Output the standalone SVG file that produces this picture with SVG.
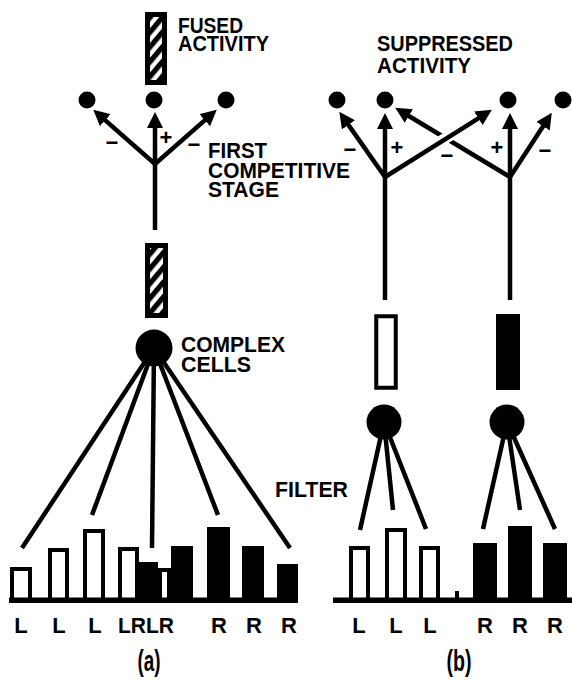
<svg xmlns="http://www.w3.org/2000/svg" width="572" height="683" viewBox="0 0 572 683">
  <style>
    .t { font-family: "Liberation Sans", Arial, sans-serif; font-weight: bold; font-size: 22px; fill: #000; }
    .sg { font-family: "Liberation Sans", Arial, sans-serif; font-weight: bold; font-size: 22px; fill: #000; text-anchor: middle; }
    .lb { font-family: "Liberation Sans", Arial, sans-serif; font-weight: bold; font-size: 22px; fill: #000; text-anchor: middle; }
    .cap { font-family: "Liberation Sans", Arial, sans-serif; font-weight: bold; font-size: 30px; fill: #000; text-anchor: middle; }
    .ln { stroke: #000; stroke-width: 4.5; fill: none; stroke-linecap: butt; }
    .arr { marker-end: url(#ah); }
    .open { fill: #fff; stroke: #000; stroke-width: 4; }
    .solid { fill: #000; }
    .dot { fill: #000; }
    .hatch { fill: url(#stripes); stroke: #000; stroke-width: 5; }
  </style>
  <defs>
    <marker id="ah" markerUnits="userSpaceOnUse" markerWidth="16" markerHeight="16" viewBox="0 0 16 16" refX="1" refY="8" orient="auto">
      <path d="M0,0 L16,8 L0,16 z" fill="#000"/>
    </marker>
    <pattern id="stripes" patternUnits="userSpaceOnUse" width="9.5" height="9.5" patternTransform="rotate(40)">
      <rect x="0" y="0" width="9.5" height="9.5" fill="#fff"/>
      <rect x="0" y="0" width="5.2" height="9.5" fill="#000"/>
    </pattern>
  </defs>

  <rect width="572" height="683" fill="#fff"/>

  <!-- connectors -->
  <g id="connectors">
    <!-- panel a: competitive stage -->
    <line class="ln" x1="155" y1="230" x2="155" y2="162"/>
    <line class="ln arr" x1="155" y1="164" x2="104.5" y2="119.6"/>
    <line class="ln arr" x1="155" y1="164" x2="155" y2="127"/>
    <line class="ln arr" x1="155" y1="164" x2="205.5" y2="119.6"/>
    <!-- panel a: filter fan -->
    <line class="ln" x1="154" y1="348" x2="22" y2="548"/>
    <line class="ln" x1="154" y1="348" x2="92" y2="515"/>
    <line class="ln" x1="154" y1="348" x2="152" y2="548"/>
    <line class="ln" x1="154" y1="348" x2="218" y2="515"/>
    <line class="ln" x1="154" y1="348" x2="290" y2="548"/>

    <!-- panel b: two competitive trees -->
    <line class="ln" x1="385" y1="300" x2="385" y2="175"/>
    <line class="ln" x1="510" y1="300" x2="510" y2="175"/>
    <line class="ln arr" x1="385" y1="177" x2="347.9" y2="124.1"/>
    <line class="ln arr" x1="385" y1="177" x2="385" y2="128"/>
    <line class="ln arr" x1="510" y1="177" x2="510" y2="128"/>
    <line class="ln arr" x1="510" y1="177" x2="543.6" y2="125.4"/>
    <!-- crossing pair: the left-going arrow passes under the right-going one -->
    <line class="ln arr" x1="510" y1="177" x2="408" y2="115.5"/>
    <line x1="432" y1="146.5" x2="460" y2="129.5" stroke="#fff" stroke-width="11"/>
    <line class="ln arr" x1="385" y1="177" x2="479.2" y2="117.8"/>
    <!-- panel b: filter fans -->
    <line class="ln" x1="384" y1="422" x2="360" y2="530"/>
    <line class="ln" x1="384" y1="422" x2="393" y2="510"/>
    <line class="ln" x1="384" y1="422" x2="426" y2="529"/>
    <line class="ln" x1="507" y1="422" x2="483" y2="529"/>
    <line class="ln" x1="507" y1="422" x2="520" y2="510"/>
    <line class="ln" x1="507" y1="422" x2="555" y2="529"/>
  </g>

  <!-- panel a nodes -->
  <g id="fused-activity">
    <rect class="hatch" x="147.5" y="14.5" width="17" height="68"/>
    <text class="t" x="178" y="33" textLength="65" lengthAdjust="spacingAndGlyphs">FUSED</text>
    <text class="t" x="178" y="51" textLength="91" lengthAdjust="spacingAndGlyphs">ACTIVITY</text>
  </g>
  <g id="a-outputs">
    <circle class="dot" cx="87" cy="100" r="8.5"/>
    <circle class="dot" cx="154" cy="100" r="8.5"/>
    <circle class="dot" cx="226" cy="100" r="8.5"/>
  </g>
  <g id="a-signs">
    <text class="sg" x="112" y="149.5">−</text>
    <text class="sg" x="166" y="144.5">+</text>
    <text class="sg" x="194" y="151.5">−</text>
  </g>
  <g id="first-competitive-stage">
    <text class="t" x="208" y="158" textLength="59" lengthAdjust="spacingAndGlyphs">FIRST</text>
    <text class="t" x="208" y="177.5" textLength="142" lengthAdjust="spacingAndGlyphs">COMPETITIVE</text>
    <text class="t" x="208" y="197" textLength="71" lengthAdjust="spacingAndGlyphs">STAGE</text>
  </g>
  <g id="a-input">
    <rect class="hatch" x="147.5" y="245.5" width="18" height="70"/>
  </g>
  <g id="complex-cell-a">
    <circle class="dot" cx="154" cy="348" r="18.5"/>
    <text class="t" x="181" y="352" textLength="104" lengthAdjust="spacingAndGlyphs">COMPLEX</text>
    <text class="t" x="181" y="372" textLength="70" lengthAdjust="spacingAndGlyphs">CELLS</text>
  </g>
  <g id="a-bars">
    <rect class="open" x="12" y="569" width="18" height="31"/>
    <rect class="open" x="50" y="550" width="17" height="50"/>
    <rect class="open" x="85" y="531" width="18" height="69"/>
    <rect class="open" x="120" y="549" width="17" height="51"/>
    <rect class="solid" x="139" y="562" width="19" height="38"/>
    <rect class="open" x="160" y="570" width="9" height="30"/>
    <rect class="solid" x="171" y="546" width="22" height="54"/>
    <rect class="solid" x="207" y="527" width="23" height="73"/>
    <rect class="solid" x="242" y="546" width="22" height="54"/>
    <rect class="solid" x="277" y="564" width="21" height="36"/>
    <rect class="solid" x="9" y="597.5" width="289" height="5.5"/>
  </g>
  <g id="a-labels">
    <text class="lb" x="21" y="633">L</text>
    <text class="lb" x="59" y="633">L</text>
    <text class="lb" x="95" y="633">L</text>
    <text class="t" x="118" y="633" textLength="56" lengthAdjust="spacingAndGlyphs">LRLR</text>
    <text class="lb" x="219" y="633">R</text>
    <text class="lb" x="254" y="633">R</text>
    <text class="lb" x="289" y="633">R</text>
    <text class="cap" x="149" y="671" textLength="23" lengthAdjust="spacingAndGlyphs">(a)</text>
  </g>

  <g id="filter-label">
    <text class="t" x="275" y="497" textLength="73" lengthAdjust="spacingAndGlyphs">FILTER</text>
  </g>

  <!-- panel b nodes -->
  <g id="suppressed-activity">
    <text class="t" x="377" y="51" textLength="136" lengthAdjust="spacingAndGlyphs">SUPPRESSED</text>
    <text class="t" x="377" y="73" textLength="94" lengthAdjust="spacingAndGlyphs">ACTIVITY</text>
  </g>
  <g id="b-outputs">
    <circle class="dot" cx="337" cy="100" r="8.5"/>
    <circle class="dot" cx="385" cy="100" r="8.5"/>
    <circle class="dot" cx="508" cy="100" r="8.5"/>
    <circle class="dot" cx="563" cy="100" r="8.5"/>
  </g>
  <g id="b-signs">
    <text class="sg" x="350" y="156.5">−</text>
    <text class="sg" x="397" y="154.5">+</text>
    <text class="sg" x="447" y="162.5">−</text>
    <text class="sg" x="497" y="154.5">+</text>
    <text class="sg" x="545" y="157.5">−</text>
  </g>
  <g id="b-left-input">
    <rect class="open" x="376.25" y="316.25" width="19.5" height="71.5" stroke-width="4.5"/>
  </g>
  <g id="b-right-input">
    <rect class="solid" x="496" y="314" width="24" height="76"/>
  </g>
  <g id="complex-cell-b-left">
    <circle class="dot" cx="384" cy="422" r="17.5"/>
  </g>
  <g id="complex-cell-b-right">
    <circle class="dot" cx="507" cy="422" r="17.5"/>
  </g>
  <g id="b-bars">
    <rect class="open" x="351" y="548" width="17" height="52"/>
    <rect class="open" x="387" y="530" width="18" height="70"/>
    <rect class="open" x="421" y="548" width="17" height="52"/>
    <rect class="solid" x="455" y="591" width="4" height="9"/>
    <rect class="solid" x="473" y="543" width="24" height="57"/>
    <rect class="solid" x="508" y="526" width="24" height="74"/>
    <rect class="solid" x="543" y="543" width="24" height="57"/>
    <rect class="solid" x="333" y="597.5" width="239" height="5.5"/>
  </g>
  <g id="b-labels">
    <text class="lb" x="359" y="633">L</text>
    <text class="lb" x="396" y="633">L</text>
    <text class="lb" x="430" y="633">L</text>
    <text class="lb" x="485" y="633">R</text>
    <text class="lb" x="520" y="633">R</text>
    <text class="lb" x="555" y="633">R</text>
    <text class="cap" x="459" y="671" textLength="25" lengthAdjust="spacingAndGlyphs">(b)</text>
  </g>
</svg>
